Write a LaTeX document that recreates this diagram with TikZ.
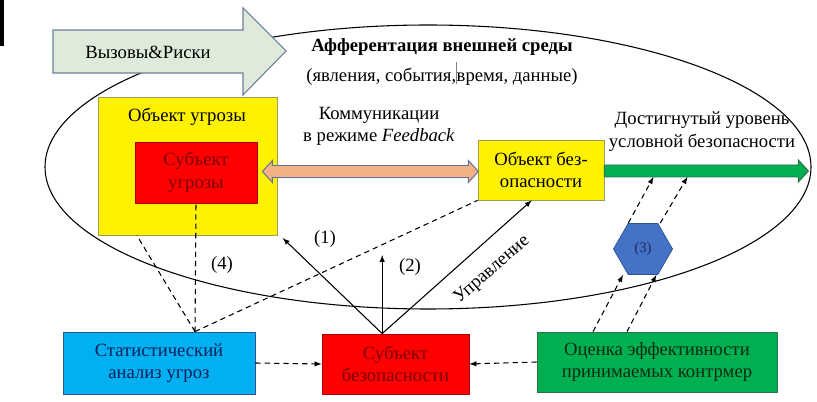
\documentclass[tikz,border=0pt]{standalone}
\usepackage{fontspec}
\setmainfont{LiberationSerif}[Extension=.ttf, UprightFont=*-Regular, BoldFont=*-Bold, ItalicFont=*-Italic, BoldItalicFont=*-BoldItalic]
\usetikzlibrary{arrows, positioning, shapes.geometric, calc}

\definecolor{challfill}{HTML}{DEEBDA}
\definecolor{challedge}{HTML}{6D7F99}
\definecolor{yelledge}{HTML}{9C9C5A}
\definecolor{rededge}{HTML}{B00000}
\definecolor{redtext}{HTML}{7A0000}
\definecolor{statfill}{HTML}{00B0F0}
\definecolor{statedge}{HTML}{2F5597}
\definecolor{stattext}{HTML}{0A1F5C}
\definecolor{evalfill}{HTML}{00B050}
\definecolor{evaledge}{HTML}{2E7050}
\definecolor{evaltext}{HTML}{0B2A14}
\definecolor{hexfill}{HTML}{4472C4}
\definecolor{hextext}{HTML}{1F2A5A}
\definecolor{commfill}{HTML}{F4B183}
\definecolor{commedge}{HTML}{5B70A0}

\begin{document}
\begin{tikzpicture}[x=0.75pt, y=-0.75pt,
        every node/.style={font=\rmfamily\fontsize{14}{17}\selectfont, align=center},
        blockbox/.style={rectangle, draw, line width=0.6pt, inner sep=0pt},
        ctrlarrow/.style={line width=0.8pt, -latex},
        dashline/.style={line width=0.8pt, dash pattern=on 4pt off 3pt}
    ]
        \useasboundingbox (0,0) rectangle (817,402);
        \fill[black] (0,0) rectangle (4,46);

        % Внешняя среда
        \draw[line width=0.8pt] (428,167) ellipse [x radius=287.25pt, y radius=106.5pt];

        \draw[fill=challfill, draw=challedge, line width=0.8pt]
            (53,30) -- (243,30) -- (243,8) -- (286,51) -- (243,95) -- (243,73) -- (53,73) -- cycle;
        \node (chall) at (148,52) {Вызовы\&Риски};

        \node[font=\rmfamily\fontsize{14}{17}\selectfont\bfseries] (afftitle) at (442,47) {Афферентация внешней среды};
        \node[below=0pt of afftitle, inner sep=1pt] (affsub)
            {(явления, события,\textcolor{gray}{\rule[-0.3ex]{0.4pt}{2.6ex}}время, данные)};

        % Блоки
        \node[blockbox, fill=yellow, draw=yelledge, minimum width=134.25pt, minimum height=103.5pt] (threatobj) at (187.5,166) {};
        \node (threatlbl) at (187,117) {Объект угрозы};
        \node[blockbox, fill=red, draw=rededge, text=redtext, minimum width=91.5pt, minimum height=45.75pt] (subjthreat) at (196,172.5) {Субъект\\угрозы};
        \node[blockbox, fill=yellow, draw=yelledge, minimum width=94.5pt, minimum height=45pt] (objsec) at (541,170) {Объект без-\\опасности};
        \node[blockbox, fill=statfill, draw=statedge, text=stattext, minimum width=144pt, minimum height=46.5pt] (stat) at (159,363) {Статистический\\анализ угроз};
        \node[blockbox, fill=red, draw=rededge, text=redtext, minimum width=110.25pt, minimum height=45pt] (subjsec) at (395.5,364) {Субъект\\безопасности};
        \node[blockbox, fill=evalfill, draw=evaledge, text=evaltext, minimum width=180pt, minimum height=45pt] (eval) at (657,362) {Оценка эффективности\\принимаемых контрмер};
        \node[regular polygon, regular polygon sides=6, draw=statedge, fill=hexfill, line width=0.6pt,
              minimum size=44.25pt, inner sep=0pt, text=hextext, font=\rmfamily\fontsize{11}{13}\selectfont] (hex) at (643,249) {(3)};

        \node (comm) at (379,126.5) {Коммуникации\\в режиме \textit{Feedback}};
        \node (level) at (702,131.5) {Достигнутый уровень\\условной безопасности};

        % Коммуникации и уровень безопасности
        \draw[fill=commfill, draw=commedge, line width=0.7pt]
            (subjthreat.east) ++(5,-1) -- ++(10,-11) -- ++(0,5) -- ++(196,0) -- ++(0,-5)
            -- ++(10,11) -- ++(-10,11) -- ++(0,-5) -- ++(-196,0) -- ++(0,5) -- cycle;
        \draw[fill=evalfill, draw=evaledge, line width=0.7pt]
            (objsec.east) ++(0,-5) -- ++(194,0) -- ++(0,-5) -- ++(10,11)
            -- ++(-10,11) -- ++(0,-5) -- ++(-194,0) -- cycle;

        % Управление
        \coordinate (ctrl) at ([xshift=-10pt]subjsec.north);
        \coordinate (up2) at ([yshift=59pt]ctrl);
        \draw[ctrlarrow] (ctrl) -- ([xshift=4pt,yshift=-2pt]threatobj.south east);
        \draw[ctrlarrow] (ctrl) -- (up2);
        \draw[ctrlarrow] (ctrl) -- ([xshift=-7pt]objsec.south);
        \node (n1) at (325,239) {(1)};
        \node (n2) at (410,267) {(2)};
        \node[rotate=41] (ctrllbl) at (492,270) {Управление};

        % Статистика угроз
        \coordinate (statup) at ([xshift=27pt]stat.north);
        \draw[dashline] (statup) -- ([xshift=-38pt]threatobj.south);
        \draw[dashline] (statup) -- (subjthreat.south);
        \draw[dashline] (statup) -- (objsec.south west);
        \node (n4) at (222,265) {(4)};
        \draw[dashline, -latex] (stat.east) -- (subjsec.west);
        \draw[dashline, -latex] (eval.west) -- (subjsec.east);

        % Контрмеры
        \coordinate (lvl1) at ([xshift=36.75pt,yshift=-5.25pt]objsec.east);
        \coordinate (lvl2) at ([xshift=62.25pt,yshift=-5.25pt]objsec.east);
        \draw[dashline, -latex] ([xshift=-48pt]eval.north) -- ([xshift=-15pt]hex.south);
        \draw[dashline, -latex] ([xshift=-22.5pt]eval.north) -- ([xshift=10pt]hex.south);
        \draw[dashline, -latex] ([xshift=-11pt]hex.north) -- (lvl1);
        \draw[dashline, -latex] ([xshift=13pt]hex.north) -- (lvl2);
    \end{tikzpicture}
\end{document}
